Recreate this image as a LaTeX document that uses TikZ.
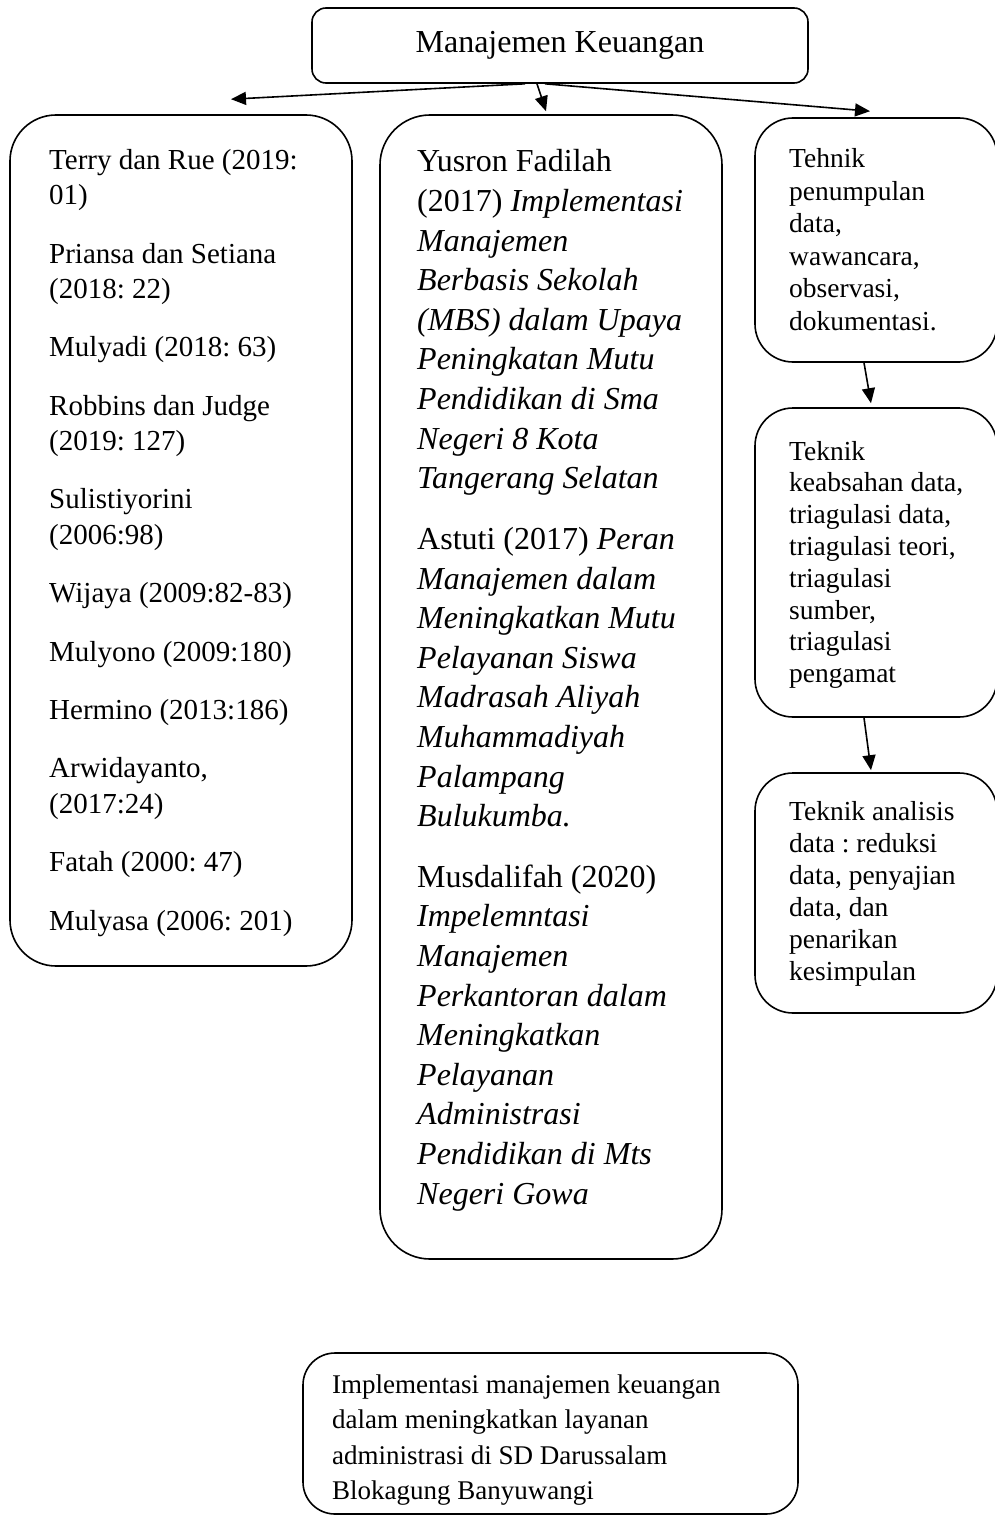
\documentclass[tikz,border=0pt]{standalone}
\usepackage{fontspec}
\setmainfont{Liberation Serif}
\usetikzlibrary{arrows.meta}
\frenchspacing
\begin{document}
\begin{tikzpicture}[x=1pt,y=-1pt,
  box/.style={draw, line width=1.6pt, rounded corners=#1, inner sep=0pt},
  txt/.style={anchor=base west, inner sep=0pt},
  arr/.style={-{Triangle[length=15pt,width=13pt]}, line width=1.6pt}]
\clip (0,0) rectangle (995,1517);
\fill[white] (0,0) rectangle (995,1517);
% frames
\node[box=14pt, minimum width=496pt, minimum height=75pt, font=\fontsize{32}{38}\selectfont] (top) at (560,45.5) {Manajemen Keuangan};
\node[box=46pt, minimum width=342pt, minimum height=851pt] (left) at (181,540.5) {};
\node[box=50pt, minimum width=342pt, minimum height=1144pt] (mid) at (551,687) {};
\node[box=38pt, minimum width=242pt, minimum height=244pt] (r1) at (876,240) {};
\node[box=38pt, minimum width=242pt, minimum height=309pt] (r2) at (876,562.5) {};
\node[box=38pt, minimum width=242pt, minimum height=240pt] (r3) at (876,893) {};
\node[box=32pt, minimum width=495pt, minimum height=161pt] (bot) at (550.5,1433.5) {};
% texts
\node[txt] (lefttext) at (49,170) {\parbox[t]{300pt}{\raggedright\fontsize{29}{35}\selectfont
Terry dan Rue (2019:\\ 01)\\[23.5pt]
Priansa dan Setiana\\ (2018: 22)\\[23.5pt]
Mulyadi (2018: 63)\\[23.5pt]
Robbins dan Judge\\ (2019: 127)\\[23.5pt]
Sulistiyorini\\ (2006:98)\\[23.5pt]
Wijaya (2009:82-83)\\[23.5pt]
Mulyono (2009:180)\\[23.5pt]
Hermino (2013:186)\\[23.5pt]
Arwidayanto,\\ (2017:24)\\[23.5pt]
Fatah (2000: 47)\\[23.5pt]
Mulyasa (2006: 201)}};
\node[txt] (midtext) at (417,172) {\parbox[t]{300pt}{\raggedright\fontsize{32}{39.6}\selectfont
Yusron Fadilah\\ (2017) \textit{Implementasi}\\ \textit{Manajemen}\\ \textit{Berbasis Sekolah}\\ \textit{(MBS) dalam Upaya}\\ \textit{Peningkatan Mutu}\\ \textit{Pendidikan di Sma}\\ \textit{Negeri 8 Kota}\\ \textit{Tangerang Selatan}\\[21pt]
Astuti (2017) \textit{Peran}\\ \textit{Manajemen dalam}\\ \textit{Meningkatkan Mutu}\\ \textit{Pelayanan Siswa}\\ \textit{Madrasah Aliyah}\\ \textit{Muhammadiyah}\\ \textit{Palampang}\\ \textit{Bulukumba.}\\[21pt]
Musdalifah (2020)\\ \textit{Impelemntasi}\\ \textit{Manajemen}\\ \textit{Perkantoran dalam}\\ \textit{Meningkatkan}\\ \textit{Pelayanan}\\ \textit{Administrasi}\\ \textit{Pendidikan di Mts}\\ \textit{Negeri Gowa}}};
\node[txt] (r1text) at (789,168) {\parbox[t]{200pt}{\raggedright\fontsize{27.5}{32.5}\selectfont
Tehnik\\ penumpulan\\ data,\\ wawancara,\\ observasi,\\ dokumentasi.}};
\node[txt] (r2text) at (789,460) {\parbox[t]{200pt}{\raggedright\fontsize{27.5}{31.8}\selectfont
Teknik\\ keabsahan data,\\ triagulasi data,\\ triagulasi teori,\\ triagulasi\\ sumber,\\ triagulasi\\ pengamat}};
\node[txt] (r3text) at (789,820) {\parbox[t]{200pt}{\raggedright\fontsize{27.5}{32}\selectfont
Teknik analisis\\ data : reduksi\\ data, penyajian\\ data, dan\\ penarikan\\ kesimpulan}};
\node[txt] (bottext) at (332,1393) {\parbox[t]{460pt}{\raggedright\fontsize{27}{35.5}\selectfont
Implementasi manajemen keuangan\\ dalam meningkatkan layanan\\ administrasi di SD Darussalam\\ Blokagung Banyuwangi}};
% connectors
\draw[arr] ([xshift=-35pt]top.south) -- ([xshift=50pt,yshift=15pt]left.north);
\draw[arr] ([xshift=-23pt]top.south) -- ([xshift=-5pt,yshift=3pt]mid.north);
\draw[arr] ([xshift=-15pt]top.south) -- ([xshift=-6pt,yshift=6pt]r1.north);
\draw[arr] ([xshift=-12pt]r1.south) -- ([xshift=-5pt,yshift=4pt]r2.north);
\draw[arr] ([xshift=-12pt]r2.south) -- ([xshift=-5pt,yshift=2pt]r3.north);
\end{tikzpicture}
\end{document}
